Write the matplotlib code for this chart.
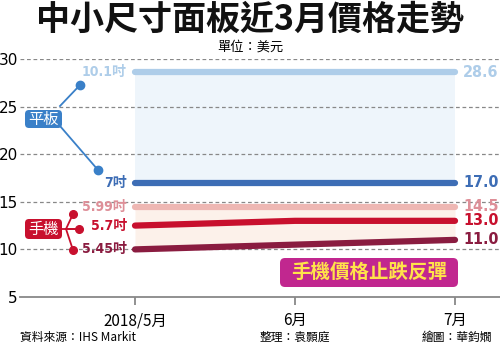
import matplotlib
matplotlib.use("Agg")
import matplotlib.pyplot as plt
from matplotlib.patches import FancyBboxPatch
from matplotlib.transforms import Affine2D

CJK = ['Noto Sans CJK TC', 'DejaVu Sans']
NARROW = ['DejaVu Sans', 'Noto Sans CJK TC']
plt.rcParams['font.family'] = CJK

months = ['2018/5月', '6月', '7月']
sizes = ['10.1吋', '7吋', '5.99吋', '5.7吋', '5.45吋']
tablet_10_1 = [28.6, 28.6, 28.6]
tablet_7 = [17.0, 17.0, 17.0]
phone_5_99 = [14.5, 14.5, 14.5]
phone_5_7 = [12.5, 13.0, 13.0]
phone_5_45 = [10.0, 10.5, 11.0]
end_labels = ['28.6', '17.0', '14.5', '13.0', '11.0']
yticks = [5, 10, 15, 20, 25, 30]

colors = ['#aecde9', '#3d6db5', '#eeb7b3', '#c8102e', '#8a1c40']
label_colors = ['#aecde9', '#3d6db5', '#de8f98', '#c8102e', '#8a1c40']
series = [tablet_10_1, tablet_7, phone_5_99, phone_5_7, phone_5_45]

W, H = 500, 346
fig = plt.figure(figsize=(W / 100, H / 100), dpi=100)
pix = Affine2D().scale(1 / W, -1 / H).translate(0, 1) + fig.transFigure

ax = fig.add_axes([20 / W, (H - 297) / H, 480 / W, (297 - 59) / H])
x = list(range(len(months)))
ax.set_xlim(-115 / 160, 2 + 45 / 160)
ax.set_ylim(5, 30)

for s in ['top', 'right', 'left']:
    ax.spines[s].set_visible(False)
ax.spines['bottom'].set_color('#888888')
ax.spines['bottom'].set_linewidth(1.3)

for yv in yticks[1:]:
    ax.axhline(yv, color='#888888', lw=0.9, ls=(0, (3, 2.2)), zorder=1)

ax.fill_between(x, tablet_7, tablet_10_1, color='#eef5fb', zorder=0, lw=0)
ax.fill_between(x, phone_5_45, phone_5_99, color='#fcf1ea', zorder=0, lw=0)

for vals, c, lc, lab, endlab in zip(series, colors, label_colors, sizes, end_labels):
    ax.plot(x, vals, color=c, lw=4.5, solid_capstyle='round', zorder=3)
    ax.annotate(lab, (x[0], vals[0]), xytext=(-6, 0), textcoords='offset points',
                ha='right', va='center', color=lc, fontsize=10, fontweight='bold',
                family=NARROW, fontstretch='condensed')
    ax.annotate(endlab, (x[-1], vals[-1]), xytext=(6, 0), textcoords='offset points',
                ha='left', va='center', color=lc, fontsize=11.5, fontweight='bold',
                family=NARROW, fontstretch='condensed')

ax.set_yticks(yticks)
ax.set_yticklabels([str(v) for v in yticks], fontsize=11, family=['DejaVu Sans'])
ax.tick_params(axis='y', length=0, pad=1.5)
ax.set_xticks(x)
ax.set_xticklabels(months, fontsize=11)
ax.tick_params(axis='x', length=6, width=1.3, color='#888888', pad=5, direction='out')

fig.text(0.5, 1 - 19 / H, '中小尺寸面板近3月價格走勢', ha='center', va='center',
         fontsize=24.5, fontweight='bold', color='#111111')
fig.text(0.5, 1 - 47 / H, '單位：美元', ha='center', va='center', fontsize=9.5)

fig.text(20 / W, 1 - 337 / H, '資料來源：IHS Markit', ha='left', va='center', fontsize=8.5)
fig.text(295 / W, 1 - 337 / H, '整理：袁顥庭', ha='center', va='center', fontsize=8.5)
fig.text(492 / W, 1 - 337 / H, '繪圖：華鈞嫺', ha='right', va='center', fontsize=8.5)

tab_c = '#3a80c8'
for (px, py) in [(80, 85), (98, 170)]:
    sy = 106 if py < 120 else 126
    fig.add_artist(plt.Line2D([60, px], [sy, py], transform=pix, color=tab_c, lw=1.3))
    fig.add_artist(plt.Line2D([px], [py], transform=pix, marker='o', ms=6,
                              color=tab_c, lw=0))
fig.add_artist(FancyBboxPatch((25, 110), 37, 18, boxstyle='round,pad=0,rounding_size=4',
                              transform=pix, fc=tab_c, ec='none'))
fig.text(43.5 / W, 1 - 119 / H, '平板', ha='center', va='center', color='white',
         fontsize=11)

ph_c = '#c8102e'
fig.add_artist(plt.Line2D([62, 80], [229, 229], transform=pix, color=ph_c, lw=1.3))
for (px, py) in [(73, 214), (79, 229), (73, 250)]:
    fig.add_artist(plt.Line2D([66, px], [229, py], transform=pix, color=ph_c, lw=1.3))
    fig.add_artist(plt.Line2D([px], [py], transform=pix, marker='o', ms=5.5,
                              color=ph_c, lw=0))
fig.add_artist(FancyBboxPatch((25, 219), 37, 20, boxstyle='round,pad=0,rounding_size=4',
                              transform=pix, fc=ph_c, ec='none'))
fig.text(43.5 / W, 1 - 229 / H, '手機', ha='center', va='center', color='white',
         fontsize=11)

fig.add_artist(FancyBboxPatch((280, 258), 178, 29, boxstyle='round,pad=0,rounding_size=5',
                              transform=pix, fc='#c1278f', ec='none'))
fig.text(369 / W, 1 - 272.5 / H, '手機價格止跌反彈', ha='center', va='center',
         color='#ffe34a', fontsize=14, fontweight='bold')

fig.savefig('out.png', dpi=100)
